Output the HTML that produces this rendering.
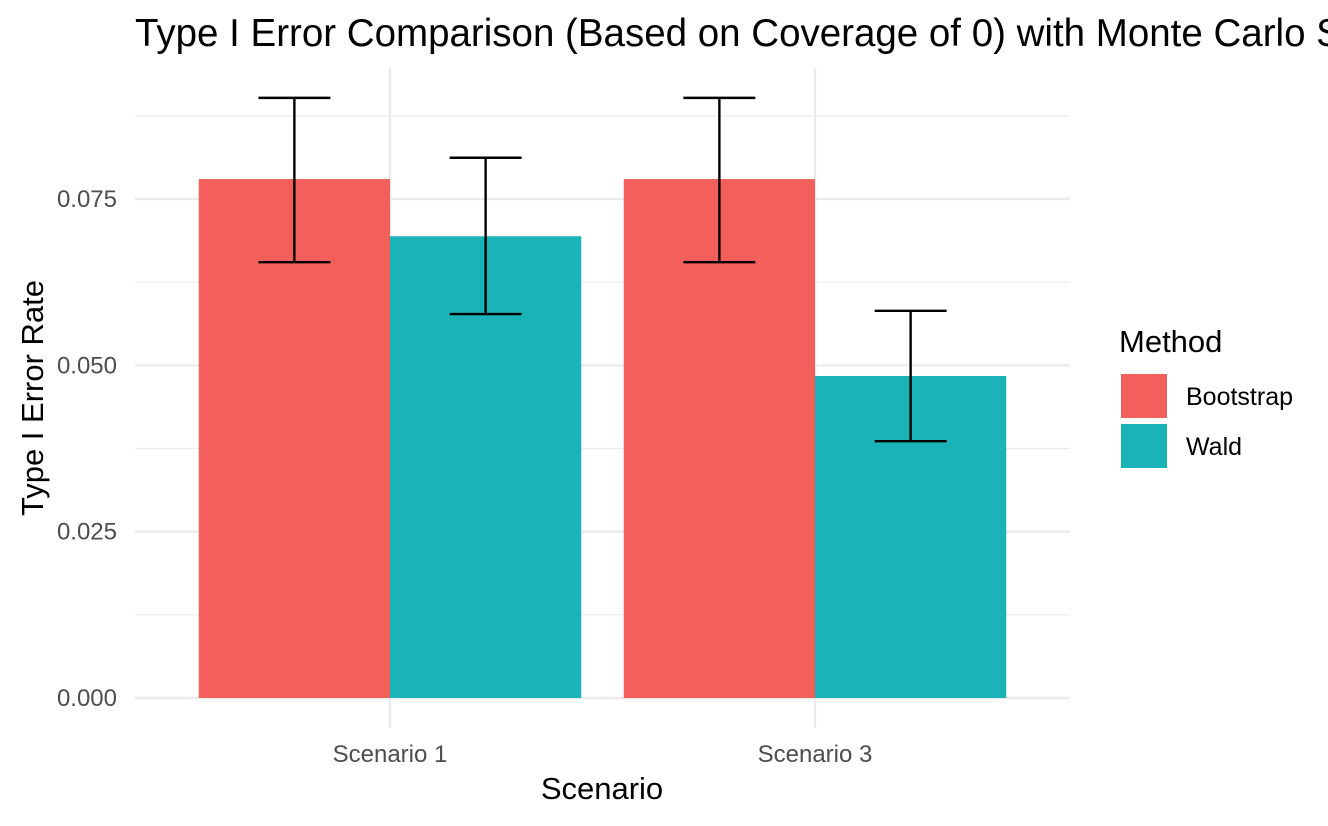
<!DOCTYPE html>
<html><head><meta charset="utf-8"><style>
html,body{margin:0;padding:0;background:#fff;}
svg text{font-family:"Liberation Sans",Arial,sans-serif;}
</style></head><body>
<svg width="1328" height="821" viewBox="0 0 1328 821">
<text x="135" y="46" font-size="38.5" fill="#000">Type I Error Comparison (Based on Coverage of 0) with Monte Carlo SE</text>
<g id="grid"></g>
<g id="bars"></g>
<g id="errs"></g>
<g id="axes"></g>
<text x="602" y="799" font-size="31" text-anchor="middle" fill="#000">Scenario</text>
<text transform="translate(43,398) rotate(-90)" font-size="31" text-anchor="middle" fill="#000">Type I Error Rate</text>
<g>
<text x="1119" y="352" font-size="31" fill="#000">Method</text>
<rect x="1121" y="374" width="46" height="44" fill="#F3605C"/>
<text x="1186" y="405" font-size="25" fill="#000">Bootstrap</text>
<rect x="1121" y="424" width="46" height="44" fill="#1AB3B8"/>
<text x="1186" y="455" font-size="25" fill="#000">Wald</text>
</g>
</svg>
<script>
const categories=["Scenario 1","Scenario 3"];
const methods=["Bootstrap","Wald"];
const bootstrapValues=[0.078,0.078];
const waldValues=[0.0694,0.0484];
const bootstrapLower=[0.0655,0.0655];
const bootstrapUpper=[0.0902,0.0902];
const waldLower=[0.0577,0.0386];
const waldUpper=[0.0812,0.0582];
const yTicks=[0,0.025,0.05,0.075];
const yTickLabels=["0.000","0.025","0.050","0.075"];

const NS="http://www.w3.org/2000/svg";
const px0=135,px1=1070,py0=698,yScalePer=(698-199)/0.075;
const y=v=>py0-v*yScalePer;
// discrete x scale: category positions 1..n, domain [0.4, n+0.6]
const xc=i=>px0+((i+1)-0.4)/(categories.length+0.2)*(px1-px0);
function mk(tag,attrs,parent){const e=document.createElementNS(NS,tag);for(const k in attrs)e.setAttribute(k,attrs[k]);document.getElementById(parent).appendChild(e);return e;}
for(let v=0.0125;v<0.095;v+=0.025){const l=mk('line',{x1:px0,x2:px1,y1:y(v),y2:y(v),stroke:'#ebebeb','stroke-width':1.2},'grid');

}
yTicks.forEach((v,i)=>{const l=mk('line',{x1:px0,x2:px1,y1:y(v),y2:y(v),stroke:'#ebebeb','stroke-width':2.4},'grid');


const t=mk('text',{x:117,y:y(v)+8,'font-size':24,'text-anchor':'end',fill:'#4d4d4d'},'axes');t.textContent=yTickLabels[i];

});
categories.forEach((c,i)=>{const l=mk('line',{x1:xc(i),x2:xc(i),y1:68,y2:728,stroke:'#ebebeb','stroke-width':2.4},'grid');


const t=mk('text',{x:xc(i),y:762,'font-size':24,'text-anchor':'middle',fill:'#4d4d4d'},'axes');t.textContent=c;

});
const bw=0.45*(px1-px0)/(categories.length+0.2);
const series=[[bootstrapValues,bootstrapLower,bootstrapUpper,'#F3605C','bootstrap'],[waldValues,waldLower,waldUpper,'#1AB3B8','wald']];
series.forEach((s,j)=>{categories.forEach((c,i)=>{
 const x0=xc(i)+(j-1)*bw;
 const r=mk('rect',{x:x0,y:y(s[0][i]),width:bw,height:py0-y(s[0][i]),fill:s[3]},'bars');
 
 
 const cx=x0+bw/2,hw=36;
 const g=mk('g',{stroke:'#000','stroke-width':2.4,fill:'none'},'errs');
 
 
 const p=document.createElementNS(NS,'path');
 p.setAttribute('d',`M${cx-hw},${y(s[2][i])}H${cx+hw}M${cx},${y(s[2][i])}V${y(s[1][i])}M${cx-hw},${y(s[1][i])}H${cx+hw}`);
 g.appendChild(p);
});});
</script>
</body></html>
